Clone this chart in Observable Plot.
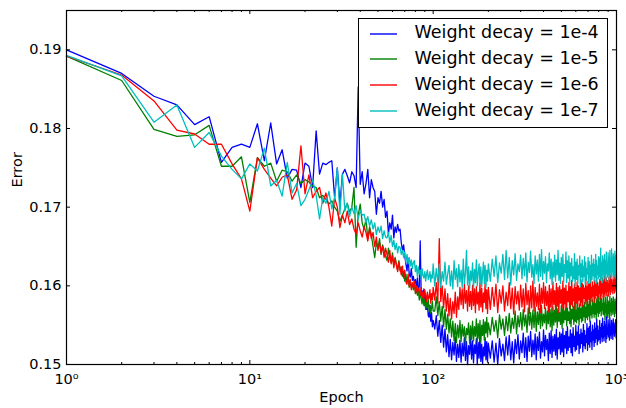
<!DOCTYPE html>
<html>
<head>
<meta charset="utf-8">
<script src="https://cdn.jsdelivr.net/npm/d3@7"></script>
<script src="https://cdn.jsdelivr.net/npm/@observablehq/plot@0.6"></script>
<style>
html, body { margin: 0; padding: 0; background: #fff; overflow: hidden; }
#wrap { position: relative; width: 626px; height: 408px; font-family: "DejaVu Sans", sans-serif; }
#legend { position: absolute; left: 358px; top: 18px; width: 250px; height: 110px; box-sizing: border-box; border: 1px solid #000; background: #fff; }
.row { position: absolute; left: 0; width: 100%; height: 25.85px; }
.sw { position: absolute; left: 11px; top: 12.5px; width: 27px; height: 2px; opacity: 0.7; }
.lab { position: absolute; left: 55.5px; top: 0; line-height: 25.85px; font-size: 17.5px; white-space: nowrap; color: #000; }
</style>
</head>
<body>
<div id="wrap"></div>
<script>
// Error values are stored multiplied by 10^4 (1900 = 0.1900)
// Epochs: 1..100 every epoch, 102..200 every 2, 205..1000 every 5
const epochs = d3.range(1, 101).concat(d3.range(102, 201, 2), d3.range(205, 1001, 5));

const wd1e4 = [
1900,1870,1841,1830,1805,1815,1757,1776,1780,1776,
1806,1759,1807,1755,1773,1737,1748,1747,1725,1756,
1752,1725,1797,1742,1756,1754,1757,1759,1712,1750,
1704,1742,1748,1740,1731,1745,1740,1725,1853,1729,
1745,1717,1730,1748,1712,1735,1725,1720,1691,1712,
1705,1720,1700,1710,1687,1695,1666,1680,1672,1690,
1661,1675,1668,1678,1670,1672,1655,1645,1652,1638,
1628,1619,1635,1615,1611,1622,1607,1612,1603,1608,
1598,1610,1592,1600,1657,1588,1594,1580,1596,1575,
1587,1570,1578,1562,1560,1575,1555,1566,1548,1556,
1545,1562,1536,1556,1528,1550,1522,1545,1516,1538,
1510,1532,1506,1528,1512,1535,1504,1526,1509,1531,
1503,1527,1511,1534,1505,1529,1500,1524,1513,1536,
1507,1530,1502,1525,1514,1533,1500,1528,1508,1537,
1504,1526,1501,1522,1511,1534,1506,1529,1503,1527,
1508,1530,1503,1527,1500,1533,1511,1526,1505,1535,
1512,1537,1506,1529,1502,1532,1514,1538,1507,1530,
1515,1540,1509,1534,1504,1536,1517,1542,1510,1531,
1513,1539,1506,1535,1518,1541,1508,1529,1516,1544,
1511,1537,1519,1532,1505,1540,1514,1543,1509,1536,
1517,1538,1512,1545,1507,1534,1520,1541,1513,1539,
1516,1546,1510,1537,1521,1542,1514,1548,1518,1535,
1522,1544,1515,1539,1511,1547,1523,1536,1517,1550,
1519,1541,1525,1549,1514,1538,1521,1545,1527,1540,
1516,1551,1524,1543,1520,1537,1528,1552,1518,1546,
1526,1548,1522,1555,1529,1541,1519,1550,1531,1544,
1523,1553,1528,1546,1533,1558,1525,1549,1530,1543,
1532,1556,1527,1547,1535,1552,1529,1559,1534,1548,
1530,1555,1536,1550,1528,1561,1533,1546,1538,1557,
1535,1551,1531,1560,1537,1548,1533,1556,1539,1552,
1532,1558,1540,1553,1536,1549,1541,1557,1534,1555
];

const wd1e5 = [
1892,1861,1799,1790,1792,1804,1752,1752,1764,1706,
1763,1752,1756,1733,1747,1745,1733,1741,1730,1735,
1732,1727,1725,1712,1715,1710,1704,1708,1700,1695,
1682,1690,1698,1705,1694,1700,1725,1649,1690,1704,
1680,1672,1685,1660,1675,1665,1650,1636,1655,1648,
1660,1640,1652,1645,1638,1632,1648,1635,1630,1642,
1625,1636,1628,1620,1632,1619,1624,1612,1618,1606,
1615,1605,1610,1598,1606,1598,1602,1595,1604,1590,
1598,1588,1594,1582,1590,1584,1577,1588,1575,1583,
1570,1580,1572,1585,1568,1575,1565,1572,1580,1568,
1568,1586,1562,1580,1555,1574,1548,1570,1545,1564,
1540,1558,1535,1555,1530,1552,1528,1550,1534,1556,
1529,1551,1536,1548,1525,1546,1538,1553,1527,1549,
1532,1555,1530,1548,1536,1558,1529,1552,1533,1556,
1528,1550,1537,1557,1531,1554,1540,1560,1535,1553,
1538,1560,1542,1556,1534,1563,1545,1558,1537,1561,
1543,1565,1540,1559,1546,1568,1539,1562,1548,1566,
1544,1570,1549,1563,1541,1572,1550,1566,1545,1569,
1547,1573,1542,1567,1551,1571,1546,1575,1549,1564,
1553,1572,1545,1568,1552,1576,1548,1570,1543,1574,
1550,1569,1554,1577,1547,1571,1555,1566,1551,1575,
1546,1573,1553,1568,1557,1578,1549,1572,1556,1567,
1552,1576,1548,1570,1558,1574,1551,1579,1555,1569,
1553,1580,1557,1572,1550,1577,1559,1571,1554,1582,
1556,1575,1561,1579,1553,1573,1560,1583,1557,1576,
1562,1580,1555,1585,1563,1574,1559,1582,1565,1578,
1560,1586,1564,1577,1558,1583,1566,1581,1561,1588,
1565,1579,1568,1590,1562,1584,1569,1577,1564,1587,
1563,1578,1557,1585,1566,1576,1562,1588,1559,1581,
1565,1579,1560,1587,1568,1577,1562,1584,1567,1580,
1564,1586,1569,1578,1561,1583,1571,1579,1565,1585
];

const wd1e6 = [
1892,1868,1835,1798,1793,1780,1780,1755,1736,1695,
1763,1748,1737,1727,1738,1741,1710,1722,1778,1717,
1741,1712,1720,1725,1705,1718,1700,1676,1712,1700,
1674,1690,1680,1695,1678,1685,1672,1666,1680,1670,
1662,1675,1668,1657,1672,1660,1668,1650,1662,1645,
1655,1642,1650,1636,1648,1640,1630,1645,1628,1638,
1623,1635,1626,1618,1630,1622,1614,1625,1610,1620,
1605,1602,1615,1600,1608,1595,1604,1598,1606,1592,
1600,1590,1597,1594,1588,1598,1585,1592,1583,1595,
1588,1580,1592,1583,1585,1595,1578,1590,1582,1598,
1582,1604,1578,1660,1580,1600,1572,1596,1568,1590,
1562,1584,1558,1580,1565,1592,1560,1586,1570,1598,
1576,1596,1571,1602,1578,1594,1568,1600,1574,1593,
1570,1601,1575,1596,1566,1599,1577,1592,1569,1604,
1573,1597,1567,1591,1579,1603,1571,1595,1565,1598,
1570,1598,1574,1602,1566,1595,1578,1600,1568,1592,
1575,1604,1571,1597,1564,1599,1577,1593,1569,1601,
1573,1596,1567,1603,1576,1594,1565,1600,1572,1606,
1568,1598,1574,1591,1570,1602,1566,1597,1578,1604,
1571,1599,1575,1593,1567,1601,1573,1596,1569,1605,
1576,1594,1570,1603,1574,1598,1566,1600,1578,1595,
1572,1606,1569,1597,1577,1601,1573,1593,1580,1604,
1571,1599,1576,1607,1574,1596,1581,1602,1570,1598,
1578,1605,1573,1600,1582,1597,1575,1608,1579,1603,
1574,1601,1584,1597,1577,1609,1581,1599,1576,1606,
1583,1602,1578,1610,1585,1598,1580,1605,1587,1600,
1579,1607,1584,1602,1588,1611,1582,1604,1586,1599,
1590,1608,1583,1612,1587,1603,1591,1609,1585,1606,
1589,1613,1586,1604,1592,1610,1588,1607,1593,1602,
1587,1611,1594,1606,1589,1614,1592,1608,1596,1603,
1590,1612,1595,1609,1591,1615,1597,1606,1593,1611
];

const wd1e7 = [
1893,1867,1808,1830,1776,1795,1765,1748,1736,1755,
1746,1775,1727,1734,1714,1757,1718,1730,1702,1710,
1722,1735,1715,1685,1712,1705,1720,1698,1712,1750,
1691,1742,1695,1705,1688,1700,1692,1702,1685,1696,
1690,1691,1680,1688,1676,1684,1672,1680,1665,1675,
1668,1676,1660,1670,1662,1661,1668,1655,1664,1650,
1658,1646,1654,1642,1650,1649,1640,1645,1636,1643,
1630,1640,1628,1636,1625,1633,1622,1630,1632,1618,
1626,1612,1624,1615,1620,1608,1622,1613,1610,1618,
1606,1615,1620,1608,1612,1618,1605,1614,1610,1628,
1600,1622,1604,1628,1598,1618,1606,1630,1602,1615,
1626,1600,1619,1596,1632,1608,1622,1599,1627,1605,
1620,1598,1634,1603,1616,1645,1601,1624,1596,1619,
1607,1629,1597,1621,1604,1633,1600,1617,1628,1602,
1624,1599,1615,1630,1603,1626,1598,1620,1606,1628,
1606,1634,1612,1638,1604,1629,1616,1640,1608,1645,
1610,1636,1601,1632,1614,1641,1607,1628,1618,1639,
1609,1635,1613,1642,1605,1630,1617,1644,1611,1627,
1603,1638,1615,1633,1606,1640,1612,1646,1608,1631,
1616,1637,1604,1628,1619,1642,1609,1634,1602,1630,
1611,1639,1606,1633,1614,1645,1607,1629,1603,1636,
1612,1640,1605,1627,1617,1643,1604,1632,1610,1638,
1601,1629,1613,1635,1606,1624,1609,1641,1600,1630,
1608,1634,1603,1626,1614,1638,1599,1628,1611,1633,
1605,1625,1612,1637,1602,1630,1607,1622,1615,1636,
1603,1631,1610,1626,1604,1639,1608,1628,1613,1634,
1606,1627,1611,1640,1603,1632,1614,1625,1609,1637,
1612,1635,1607,1648,1610,1629,1604,1638,1615,1633,
1609,1640,1613,1631,1606,1643,1616,1628,1611,1642,
1614,1636,1608,1645,1617,1630,1610,1647,1613,1635,
1618,1641,1609,1637,1615,1644,1612,1639,1620,1634
];

const seriesNames = ["Weight decay = 1e-4", "Weight decay = 1e-5", "Weight decay = 1e-6", "Weight decay = 1e-7"];
const seriesColors = ["#0000ff", "#008000", "#ff0000", "#00bfbf"];
const seriesValues = [wd1e4, wd1e5, wd1e6, wd1e7];

const xMajorTicks = [1, 10, 100, 1000];
const xTickLabels = ["10\u2070", "10\u00b9", "10\u00b2", "10\u00b3"];
const xMinorTicks = [2,3,4,5,6,7,8,9,20,30,40,50,60,70,80,90,200,300,400,500,600,700,800,900];
const yTicks = [0.15, 0.16, 0.17, 0.18, 0.19];

const rows = seriesValues.map((vals, s) =>
  vals.map((v, i) => ({epoch: epochs[i], error: v / 1e4, series: seriesNames[s]})));

const W = 626, H = 408, mL = 66, mR = 10, mT = 10, mB = 44;
const fw = W - mL - mR, fh = H - mT - mB;
const tickStyle = {stroke: "#000", strokeOpacity: 1, strokeWidth: 1};

const chart = Plot.plot({
  width: W, height: H,
  marginLeft: mL, marginRight: mR, marginTop: mT, marginBottom: mB,
  style: {fontFamily: '"DejaVu Sans", sans-serif', fontSize: "14.5px", background: "#fff", color: "#000", overflow: "visible"},
  x: {type: "log", domain: [1, 1000], label: null},
  y: {domain: [0.15, 0.195], label: null},
  marks: [
    ...rows.map((r, s) => Plot.line(r, {x: "epoch", y: "error", stroke: seriesColors[s], strokeWidth: 1.3})),
    Plot.frame({stroke: "#000", strokeWidth: 1.2}),
    Plot.gridX(xMajorTicks, {...tickStyle, insetTop: fh - 4}),
    Plot.gridX(xMajorTicks, {...tickStyle, insetBottom: fh - 4}),
    Plot.gridX(xMinorTicks, {...tickStyle, insetTop: fh - 2}),
    Plot.gridX(xMinorTicks, {...tickStyle, insetBottom: fh - 2}),
    Plot.gridY(yTicks, {...tickStyle, insetRight: fw - 4}),
    Plot.gridY(yTicks, {...tickStyle, insetLeft: fw - 4}),
    Plot.axisX(xMajorTicks, {anchor: "bottom", tickSize: 0, tickPadding: 9, label: null,
      tickFormat: d => xTickLabels[xMajorTicks.indexOf(d)]}),
    Plot.axisY(yTicks, {anchor: "left", tickSize: 0, tickPadding: 5, label: null,
      tickFormat: d3.format(".2f")}),
    Plot.text(["Epoch"], {frameAnchor: "bottom", dy: 37.5, text: d => d, fontSize: 14.5}),
    Plot.text(["Error"], {frameAnchor: "left", dx: -49, rotate: -90, text: d => d, fontSize: 14.5})
  ]
});

const wrap = document.getElementById("wrap");
wrap.appendChild(chart);

const legend = document.createElement("div");
legend.id = "legend";
seriesNames.forEach((name, i) => {
  const row = document.createElement("div");
  row.className = "row";
  row.style.top = (1.1 + i * 25.85) + "px";
  const sw = document.createElement("div");
  sw.className = "sw";
  sw.style.background = seriesColors[i];
  const lab = document.createElement("div");
  lab.className = "lab";
  lab.textContent = name;
  row.appendChild(sw);
  row.appendChild(lab);
  legend.appendChild(row);
});
wrap.appendChild(legend);
</script>
</body>
</html>
